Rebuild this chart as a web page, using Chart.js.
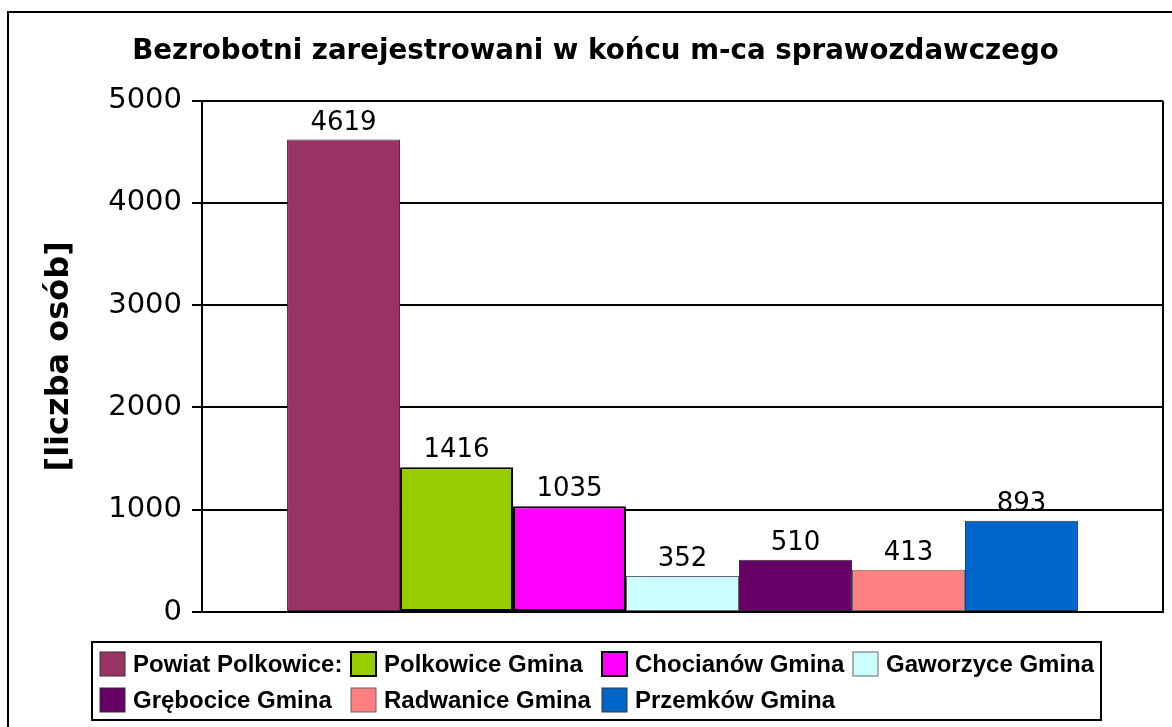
<!DOCTYPE html>
<html>
<head>
<meta charset="utf-8">
<script src="https://cdn.jsdelivr.net/npm/chart.js@4"></script>
<style>
  html, body { margin: 0; padding: 0; background: #fff; }
  #wrap { width: 1172px; height: 727px; position: relative; }
</style>
</head>
<body>
<div id="wrap"><canvas id="c" width="1172" height="727"></canvas></div>
<script>
const titleText = 'Bezrobotni zarejestrowani w końcu m-ca sprawozdawczego';
const yAxisTitle = '[liczba osób]';
const categories = [''];
const seriesNames = ['Powiat Polkowice:', 'Polkowice Gmina', 'Chocianów Gmina', 'Gaworzyce Gmina', 'Grębocice Gmina', 'Radwanice Gmina', 'Przemków Gmina'];
const seriesValues = [4619, 1416, 1035, 352, 510, 413, 893];
const seriesColors = ['#993366', '#99CC00', '#FF00FF', '#CCFFFF', '#660066', '#FF8080', '#0066CC'];
const seriesBorders = ['#333333', '#000000', '#000000', '#666666', '#333333', '#666666', '#333333'];
const seriesBorderWidths = [1, 2, 2, 1, 1, 1, 1];
const yTicks = [0, 1000, 2000, 3000, 4000, 5000];

const datasets = seriesNames.map((name, i) => ({
  label: name,
  data: [seriesValues[i]],
  backgroundColor: seriesColors[i],
  borderColor: seriesBorders[i],
  borderWidth: seriesBorderWidths[i],
  borderSkipped: false,
  barPercentage: 1,
  categoryPercentage: 0.823
}));

const framePlugin = {
  id: 'framePlugin',
  beforeDraw(chart) {
    const ctx = chart.ctx;
    ctx.save();
    ctx.fillStyle = '#fff';
    ctx.fillRect(0, 0, chart.width, chart.height);
    ctx.strokeStyle = '#000';
    ctx.lineWidth = 2;
    ctx.beginPath();
    ctx.moveTo(8, 740);
    ctx.lineTo(8, 12);
    ctx.lineTo(1180, 12);
    ctx.stroke();
    ctx.restore();
  },
  afterDatasetsDraw(chart) {
    const ctx = chart.ctx;
    const a = chart.chartArea;
    ctx.save();
    ctx.strokeStyle = '#000';
    ctx.lineWidth = 2;
    ctx.beginPath();
    ctx.moveTo(a.left, a.bottom);
    ctx.lineTo(a.right, a.bottom);
    ctx.lineTo(a.right, a.top);
    ctx.stroke();
    ctx.fillStyle = '#000';
    ctx.font = '26px "DejaVu Sans"';
    ctx.textAlign = 'center';
    ctx.textBaseline = 'alphabetic';
    chart.data.datasets.forEach((ds, i) => {
      const meta = chart.getDatasetMeta(i);
      meta.data.forEach((bar, j) => {
        ctx.fillText(String(ds.data[j]), bar.x, bar.y - 10);
      });
    });
    ctx.restore();
  },
  afterDraw(chart) {
    const ctx = chart.ctx;
    ctx.save();
    ctx.strokeStyle = '#000';
    ctx.lineWidth = 2;
    ctx.strokeRect(92, 642, 1009, 78);
    ctx.font = 'bold 24px "Liberation Sans"';
    ctx.textBaseline = 'middle';
    ctx.textAlign = 'left';
    const colX = [100, 351, 602, 853];
    const rowY = [664, 700];
    chart.data.datasets.forEach((ds, i) => {
      const r = Math.floor(i / 4), c = i % 4;
      const x = colX[c], y = rowY[r];
      ctx.fillStyle = ds.backgroundColor;
      ctx.fillRect(x, y - 12, 25, 24);
      ctx.strokeStyle = ds.borderColor;
      ctx.lineWidth = ds.borderWidth;
      ctx.strokeRect(x, y - 12, 25, 24);
      ctx.fillStyle = '#000';
      ctx.fillText(ds.label, x + 33, y + 1);
    });
    ctx.restore();
  }
};

new Chart(document.getElementById('c'), {
  type: 'bar',
  data: { labels: categories, datasets },
  plugins: [framePlugin],
  options: {
    responsive: false,
    animation: false,
    devicePixelRatio: 1,
    layout: { padding: { left: 28, right: 9, top: 0, bottom: 115 } },
    plugins: {
      legend: { display: false },
      tooltip: { enabled: false },
      title: {
        display: true,
        text: titleText,
        color: '#000',
        font: { family: '"DejaVu Sans"', size: 27.7, weight: 'bold', lineHeight: 1.2 },
        padding: { top: 35.4, bottom: 32 }
      }
    },
    scales: {
      x: {
        display: true,
        ticks: { display: false },
        grid: { display: false, drawTicks: false },
        border: { display: false },
        afterFit(scale) { scale.height = 0; }
      },
      y: {
        min: 0,
        max: 5000,
        afterBuildTicks(scale) { scale.ticks = yTicks.map(v => ({ value: v })); },
        ticks: {
          color: '#000',
          font: { family: '"DejaVu Sans"', size: 29 },
          padding: 10,
          callback: (v) => String(v)
        },
        grid: { color: '#000', lineWidth: 2, tickLength: 10, drawTicks: true },
        border: { display: true, color: '#000', width: 2 },
        title: {
          display: true,
          text: yAxisTitle,
          color: '#000',
          font: { family: '"DejaVu Sans"', size: 32, weight: 'bold', lineHeight: 1.2 },
          padding: { top: 12, bottom: 0 }
        },
        afterFit(scale) { scale.width = 174; }
      }
    }
  }
});
</script>
</body>
</html>
